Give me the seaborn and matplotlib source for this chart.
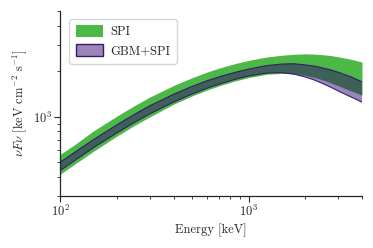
import matplotlib
matplotlib.use("Agg")
import matplotlib.pyplot as plt
import matplotlib.ticker as mticker
from matplotlib.patches import Patch
import seaborn as sns
import pandas as pd

energy = [100, 120, 150, 200, 250, 300, 400, 500, 600, 700, 850, 1000,
          1250, 1500, 1750, 2000, 2250, 2500, 2750, 3000, 3500, 4000]
spi_upper = [564, 657, 805, 1010, 1191, 1352, 1609, 1810, 1971, 2100, 2247, 2360,
             2484, 2550, 2590, 2605, 2595, 2570, 2536, 2490, 2399, 2300]
spi_lower = [417, 488, 590, 745, 881, 1000, 1210, 1371, 1499, 1603, 1726, 1815,
             1911, 1935, 1930, 1880, 1819, 1745, 1672, 1600, 1483, 1390]
gbm_upper = [500, 584, 704, 884, 1043, 1183, 1408, 1584, 1726, 1838, 1967, 2065,
             2179, 2231, 2241, 2201, 2160, 2095, 2034, 1967, 1835, 1702]
gbm_lower = [440, 516, 623, 782, 922, 1047, 1250, 1410, 1542, 1645, 1768, 1860,
             1945, 1957, 1910, 1834, 1745, 1650, 1562, 1479, 1352, 1251]
labels = ["SPI", "GBM+SPI"]

sns.set_theme(style="ticks")
plt.rcParams["font.family"] = "serif"
plt.rcParams["font.serif"] = ["cmr10"]
plt.rcParams["mathtext.fontset"] = "cm"
plt.rcParams["axes.formatter.use_mathtext"] = True
plt.rcParams["axes.unicode_minus"] = False

green = "#4cb846"
purple_face = (0.18, 0.0, 0.43, 0.48)
purple_edge = (0.22, 0.10, 0.42, 1.0)

df = pd.DataFrame({"E": energy, "spi_hi": spi_upper, "spi_lo": spi_lower,
                   "gbm_hi": gbm_upper, "gbm_lo": gbm_lower})

fig = plt.figure(figsize=(3.73, 2.48), dpi=100)
ax = fig.add_axes([0.161, 0.21, 0.8095, 0.7456])

ax.fill_between(df["E"], df["spi_lo"], df["spi_hi"], color=green, lw=0)
ax.fill_between(df["E"], df["gbm_lo"], df["gbm_hi"], facecolor=purple_face,
                edgecolor="none", lw=0)
sns.lineplot(data=df, x="E", y="gbm_hi", ax=ax, color=purple_edge, lw=0.8)
sns.lineplot(data=df, x="E", y="gbm_lo", ax=ax, color=purple_edge, lw=0.8)

ax.set_xscale("log")
ax.set_yscale("log")
ax.set_xlim(100, 4000)
ax.set_ylim(300, 5000)
ax.xaxis.set_minor_formatter(mticker.NullFormatter())
ax.yaxis.set_minor_formatter(mticker.NullFormatter())
ax.tick_params(which="major", length=4, width=0.8, labelsize=9, pad=2)
ax.tick_params(which="minor", length=2.2, width=0.6)
for s in ["left", "bottom"]:
    ax.spines[s].set_linewidth(0.9)
sns.despine(ax=ax)

ax.set_xlabel("Energy [keV]", fontsize=9, labelpad=3)
ax.set_ylabel(r"$\nu F\nu$ [keV cm$^{-2}$ s$^{-1}$]", fontsize=9, labelpad=3)

handles = [Patch(facecolor=green, edgecolor="none"),
           Patch(facecolor=purple_face, edgecolor=purple_edge, lw=1.0)]
ax.legend(handles, labels, loc="upper left", fontsize=9, frameon=True,
          handlelength=2.2, handleheight=1.0, handletextpad=0.6, borderpad=0.5,
          bbox_to_anchor=(0.01, 0.99))

fig.savefig("out.png", dpi=100)
